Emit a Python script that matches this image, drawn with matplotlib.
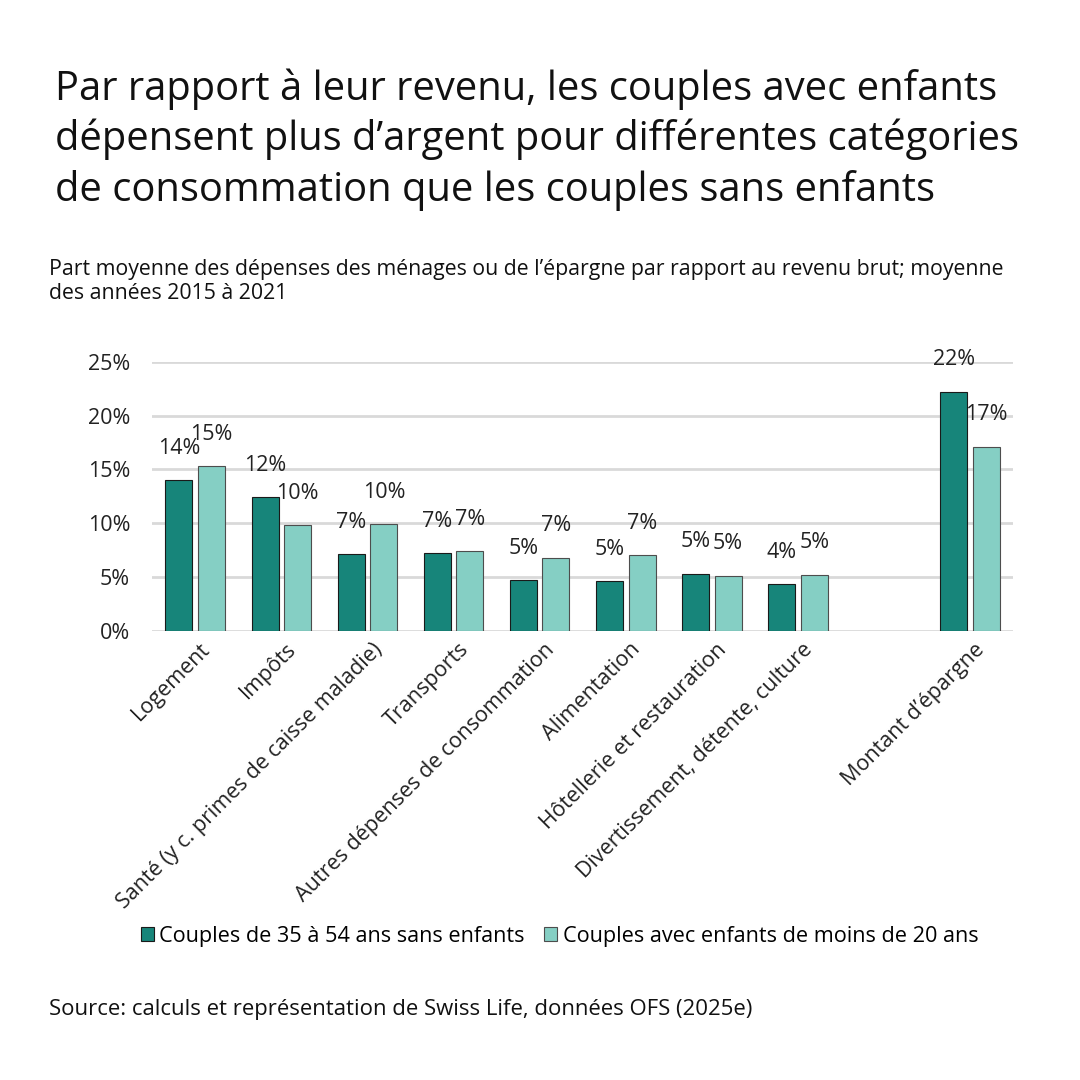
import matplotlib
matplotlib.use("Agg")
import matplotlib.pyplot as plt
import numpy as np

categories = ["Logement", "Impôts", "Santé (y c. primes de caisse maladie)", "Transports",
              "Autres dépenses de consommation", "Alimentation", "Hôtellerie et restauration",
              "Divertissement, détente, culture", "", "Montant d’épargne"]
sans_enfants = [14.0, 12.4, 7.1, 7.2, 4.7, 4.6, 5.3, 4.3, None, 22.2]
avec_enfants = [15.3, 9.8, 9.9, 7.4, 6.8, 7.0, 5.1, 5.2, None, 17.1]
series_names = ["Couples de 35 à 54 ans sans enfants", "Couples avec enfants de moins de 20 ans"]
yticks = [0, 5, 10, 15, 20, 25]

dark = "#17857a"
light = "#85cfc4"

plt.rcParams["font.family"] = ["Open Sans", "DejaVu Sans"]

fig = plt.figure(figsize=(10.8, 10.8), dpi=100)
ax = fig.add_axes([0.141, 0.416, 0.797, 0.249])

x = np.arange(len(categories))
w = 0.314
off = 0.19
for vals, dx, col, ec, name in [(sans_enfants, -off, dark, "#1a1a1a", series_names[0]),
                                (avec_enfants, off, light, "#4d4d4d", series_names[1])]:
    idx = [i for i, v in enumerate(vals) if v is not None]
    v = [vals[i] for i in idx]
    bars = ax.bar(x[idx] + dx, v, w, color=col, edgecolor=ec, linewidth=0.8, label=name, zorder=3)
    for b, val in zip(bars, v):
        ax.annotate(f"{val:.0f}%", (b.get_x() + b.get_width() / 2, val), xytext=(0, 23),
                    textcoords="offset points", ha="center", va="center", fontsize=15.5,
                    color="#222222", annotation_clip=False)

ax.set_xlim(-0.5, len(categories) - 0.5)
ax.set_ylim(0, 25)
ax.set_yticks(yticks)
ax.set_yticklabels([f"{t}%" for t in yticks], fontsize=15.5, color="#222222")
ax.yaxis.grid(True, color="#d9d9d9", linewidth=2, zorder=0)
ax.set_axisbelow(True)
ax.tick_params(axis="y", length=0, pad=16)
ax.tick_params(axis="x", length=0, pad=6)
ax.set_xticks(x + 0.05)
ax.set_xticklabels(categories, rotation=45, ha="right", rotation_mode="anchor",
                   fontsize=15.5, color="#222222")
for s in ax.spines.values():
    s.set_visible(False)

fig.text(0.051, 0.937, "Par rapport à leur revenu, les couples avec enfants\n"
         "dépensent plus d’argent pour différentes catégories\n"
         "de consommation que les couples sans enfants",
         fontsize=28.7, va="top", ha="left", color="#111111", linespacing=1.3)
fig.text(0.045, 0.76, "Part moyenne des dépenses des ménages ou de l’épargne par rapport au revenu brut; moyenne\n"
         "des années 2015 à 2021", fontsize=15.3, va="top", ha="left", color="#111111", linespacing=1.15)

fig.legend(loc="center", bbox_to_anchor=(0.518, 0.133), ncol=2, frameon=False, fontsize=15.6,
           handlelength=0.6, handleheight=0.6, handletextpad=0.25, columnspacing=0.9)

fig.text(0.045, 0.065, "Source: calculs et représentation de Swiss Life, données OFS (2025e)",
         fontsize=15.9, va="center", ha="left", color="#111111")

fig.savefig("out.png", dpi=100)
